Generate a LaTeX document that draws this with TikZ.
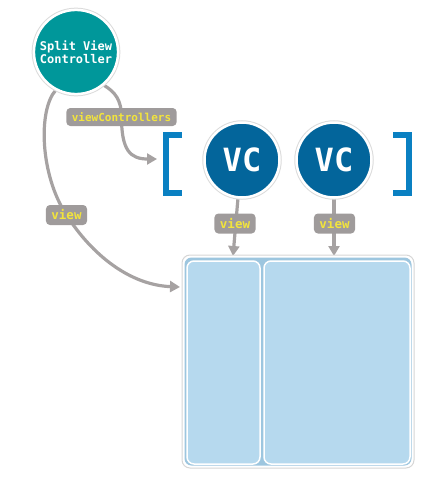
\documentclass[tikz,border=0pt]{standalone}
\usepackage{fontspec}
\setmonofont{DejaVu Sans Mono}
\usetikzlibrary{arrows.meta,backgrounds}
\definecolor{svcteal}{HTML}{00979A}
\definecolor{vcblue}{HTML}{03659B}
\definecolor{brkblue}{HTML}{0A80C2}
\definecolor{linkgray}{HTML}{A6A2A2}
\definecolor{taggray}{HTML}{9F9B9B}
\definecolor{tagyellow}{HTML}{F2E43C}
\definecolor{panelblue}{HTML}{B6D9EE}
\definecolor{rimblue}{HTML}{9DC6DF}
\tikzset{
  ctrl/.style={circle, fill=#1, draw=white, line width=2.5pt, preaction={draw=black!14, line width=4.5pt}, text=white, font=\ttfamily\bfseries},
  link/.style={draw=linkgray, line width=3.2pt, -{Triangle[width=11pt,length=10pt]}},
  tag/.style={fill=taggray, text=tagyellow, rounded corners=4pt, inner xsep=5.5pt, inner ysep=0pt, minimum height=20pt, font=\ttfamily\bfseries\fontsize{12.5}{13}\selectfont},
  pane/.style={fill=panelblue, draw=white, line width=1.5pt, rounded corners=7pt},
  brk/.style={draw=brkblue, line width=6pt, miter limit=4},
}
\begin{document}
\begin{tikzpicture}[x=1pt, y=-1pt]
			%%%%% START %%%%%
			\useasboundingbox (0,0) rectangle (436,479);
			
			% controllers
			\node[ctrl=svcteal, minimum size=79, align=center, font=\ttfamily\bfseries\fontsize{12}{13.5}\selectfont] (svc) at (76,52) {Split View\\Controller};
			\node[ctrl=vcblue, minimum size=75, font=\ttfamily\bfseries\fontsize{32}{34}\selectfont] (vc1) at (242,160) {VC};
			\node[ctrl=vcblue, minimum size=75, font=\ttfamily\bfseries\fontsize{32}{34}\selectfont] (vc2) at (334,160) {VC};
			
			% array brackets
			\draw[brk] (182,135) -- (166,135) -- (166,193) -- (182,193);
			\draw[brk] (393,135) -- (409,135) -- (409,193) -- (393,193);
			
			% split view
			\draw[draw=black!16, line width=1pt, fill=white, rounded corners=8pt] (182,255) rectangle (414,468);
			\draw[fill=rimblue, draw=none, rounded corners=7pt] (184.5,257.5) rectangle (411.5,465.5);
			\node[pane, minimum width=73, minimum height=203] (master) at (223.5,362.5) {};
			\node[pane, minimum width=146, minimum height=203] (detail) at (337,362.5) {};
			
			\coordinate (vclist) at (157,159);
			\coordinate (splitin) at (180,287);
			\coordinate (masterin) at (233,256);
			\coordinate (detailin) at (334,256);
			\coordinate (tagvcs) at (121.5,117);
			\coordinate (tagview) at (66.5,215);
			\coordinate (tagview1) at (235,223.5);
			\coordinate (tagview2) at (334.5,223.5);
			
			\begin{scope}[on background layer]
			\draw[link] (svc.-50) .. controls (115,92) and (121.5,100) .. (tagvcs) .. controls (121.5,150) and (130,159) .. (vclist);
			\draw[link] (svc.-118) .. controls (38,110) and (40,175) .. (tagview) .. controls (92,255) and (130,285) .. (splitin);
			\draw[link] (vc1.-96) -- (masterin);
			\draw[link] (vc2.south) -- (detailin);
			\end{scope}
			
			% labels
			\node[tag, minimum height=18pt, font=\ttfamily\bfseries\fontsize{11}{12}\selectfont] (vcs) at (tagvcs) {viewControllers};
			\node[tag] (view) at (tagview) {view};
			\node[tag] (view1) at (tagview1) {view};
			\node[tag] (view2) at (tagview2) {view};
			%%%%% END %%%%%
\end{tikzpicture}
\end{document}
